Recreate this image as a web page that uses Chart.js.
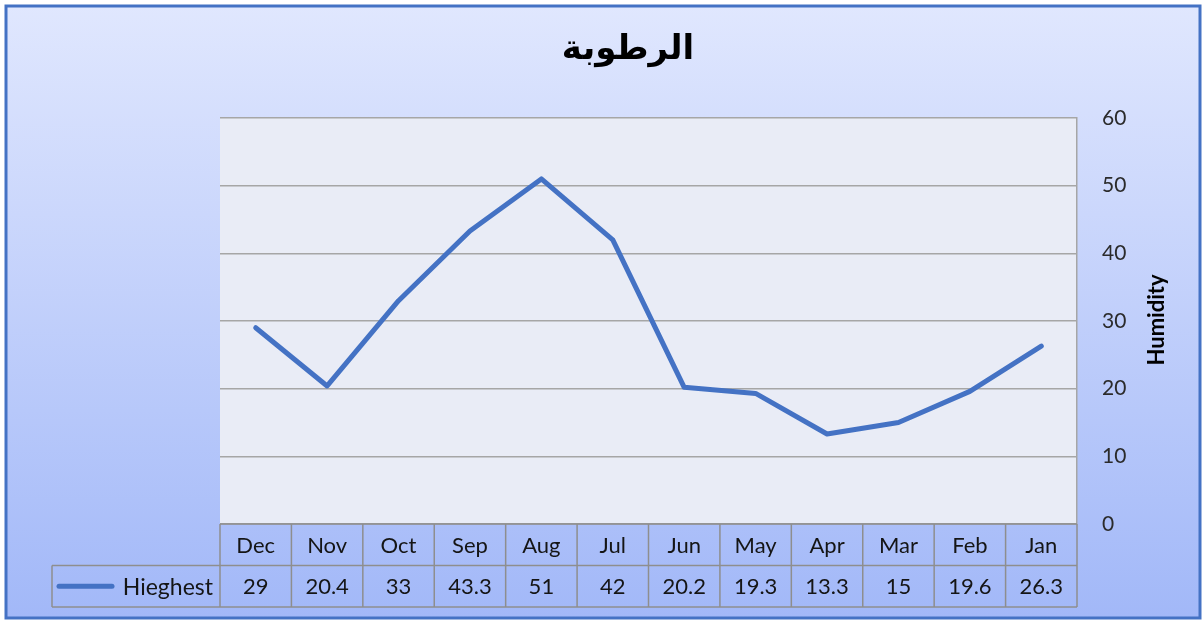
<!DOCTYPE html>
<html>
<head>
<meta charset="utf-8">
<script src="https://cdn.jsdelivr.net/npm/chart.js@4/dist/chart.umd.min.js"></script>
<style>
  html, body { margin: 0; padding: 0; background: #fff; }
  #wrap { width: 1203px; height: 621px; }
</style>
</head>
<body>
<div id="wrap"><canvas id="humidityChart" width="1203" height="621"></canvas></div>
<script>
// monthly values, Jan..Dec (the axis is drawn right-to-left)
const months = ["Jan", "Feb", "Mar", "Apr", "May", "Jun", "Jul", "Aug", "Sep", "Oct", "Nov", "Dec"];
const highest = [26.3, 19.6, 15, 13.3, 19.3, 20.2, 42, 51, 43.3, 33, 20.4, 29];
const yTicks = [0, 10, 20, 30, 40, 50, 60];
const seriesLabel = "Hieghest";
const chartTitle = "الرطوبة";
const axisTitle = "Humidity";

const LINE_BLUE = "#4472C4";
const GRID_GRAY = "#A6A6A6";
const TABLE_GRAY = "#8E8E8E";
const TEXT_COLOR = "#151515";
const UI_FONT = "Lato, 'Open Sans', sans-serif";

// gradient backdrop, blue frame and plot fill
const backdrop = {
  id: "backdrop",
  beforeDraw(chart) {
    const { ctx, width, height, chartArea } = chart;
    ctx.save();
    ctx.fillStyle = "#fff";
    ctx.fillRect(0, 0, width, height);
    const g = ctx.createLinearGradient(0, 6, 0, height - 3);
    g.addColorStop(0, "#E0E7FE");
    g.addColorStop(1, "#A2B8F8");
    ctx.fillStyle = g;
    ctx.fillRect(6, 6, width - 9, height - 9);
    ctx.strokeStyle = LINE_BLUE;
    ctx.lineWidth = 3;
    ctx.strokeRect(6, 6, width - 9, height - 9);
    ctx.fillStyle = "#E9ECF6";
    ctx.fillRect(chartArea.left, chartArea.top, chartArea.right - chartArea.left, chartArea.bottom - chartArea.top);
    ctx.restore();
  }
};

// title, rotated axis title and the data table under the plot
const extras = {
  id: "extras",
  afterDraw(chart) {
    const { ctx, chartArea } = chart;
    const x = chart.scales.x;
    const cellW = (chartArea.right - chartArea.left) / months.length;
    const rowH = 41.5;
    const top = chartArea.bottom;

    ctx.save();
    // chart title
    ctx.fillStyle = "#000";
    ctx.font = "bold 34px 'DejaVu Sans', sans-serif";
    ctx.textAlign = "center";
    ctx.textBaseline = "middle";
    ctx.fillText(chartTitle, 628, 50);

    // value axis title, reads bottom to top
    ctx.save();
    ctx.translate(1157, 320);
    ctx.rotate(-Math.PI / 2);
    ctx.font = "bold 22px " + UI_FONT;
    ctx.fillText(axisTitle, 0, 0);
    ctx.restore();

    // table grid
    ctx.strokeStyle = TABLE_GRAY;
    ctx.lineWidth = 1.5;
    const legendLeft = 52;
    ctx.beginPath();
    ctx.moveTo(chartArea.left, top);
    ctx.lineTo(chartArea.right, top);
    ctx.moveTo(legendLeft, top + rowH);
    ctx.lineTo(chartArea.right, top + rowH);
    ctx.moveTo(legendLeft, top + rowH * 2);
    ctx.lineTo(chartArea.right, top + rowH * 2);
    ctx.moveTo(legendLeft, top + rowH);
    ctx.lineTo(legendLeft, top + rowH * 2);
    months.forEach((m, i) => {
      const cx = x.getPixelForValue(i);
      const edge = cx + cellW / 2;
      ctx.moveTo(edge, top);
      ctx.lineTo(edge, top + rowH * 2);
    });
    ctx.moveTo(chartArea.left, top);
    ctx.lineTo(chartArea.left, top + rowH * 2);
    ctx.stroke();

    // month names and values
    ctx.fillStyle = TEXT_COLOR;
    ctx.font = "22px " + UI_FONT;
    ctx.textAlign = "center";
    months.forEach((m, i) => {
      const cx = x.getPixelForValue(i);
      ctx.fillText(m, cx, top + rowH / 2 + 1);
      ctx.fillText(String(highest[i]), cx, top + rowH * 1.5 + 1);
    });

    // legend key in the row header
    const ky = top + rowH * 1.5;
    ctx.strokeStyle = LINE_BLUE;
    ctx.lineWidth = 5;
    ctx.lineCap = "round";
    ctx.beginPath();
    ctx.moveTo(59, ky);
    ctx.lineTo(112, ky);
    ctx.stroke();
    ctx.textAlign = "right";
    ctx.font = "23px " + UI_FONT;
    ctx.fillText(seriesLabel, chartArea.left - 7, ky + 1);
    ctx.restore();
  }
};

new Chart(document.getElementById("humidityChart"), {
  type: "line",
  data: {
    labels: months,
    datasets: [
      {
        label: seriesLabel,
        data: highest,
        borderColor: LINE_BLUE,
        borderWidth: 5,
        borderJoinStyle: "round",
        borderCapStyle: "round",
        pointRadius: 0,
        tension: 0,
        fill: false,
      },
    ],
  },
  options: {
    responsive: false,
    animation: false,
    layout: { padding: { left: 220, right: 0, top: 118, bottom: 97 } },
    plugins: {
      legend: { display: false },
      title: { display: false },
      tooltip: { enabled: false },
    },
    scales: {
      x: {
        type: "category",
        reverse: true,
        offset: true,
        display: false,
      },
      y: {
        position: "right",
        min: yTicks[0],
        max: yTicks[yTicks.length - 1],
        afterFit(scale) { scale.width = 126; },
        afterBuildTicks(scale) { scale.ticks = yTicks.map(v => ({ value: v })); },
        grid: { color: GRID_GRAY, lineWidth: 1.5, drawTicks: false },
        border: { display: true, color: GRID_GRAY, width: 1.5 },
        ticks: {
          padding: 25,
          color: "#2B2B2B",
          font: { family: UI_FONT, size: 21 },
        },
      },
    },
  },
  plugins: [backdrop, extras],
});
</script>
</body>
</html>
